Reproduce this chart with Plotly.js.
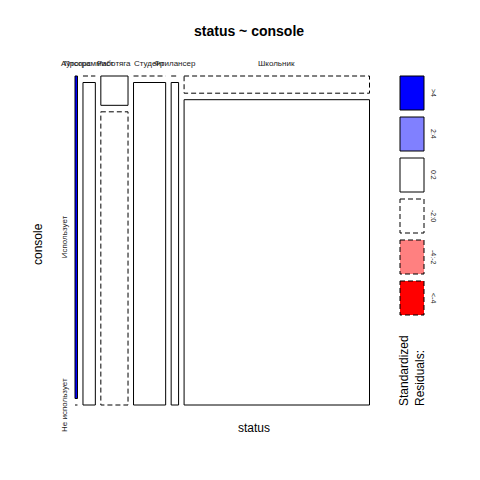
<!DOCTYPE html>
<html><head><meta charset="utf-8">
<script src="https://cdn.plot.ly/plotly-3.0.1.min.js"></script>
<style>body{margin:0;background:#fff}</style></head>
<body><div id="chart" style="width:480px;height:480px"></div>
<script>
// ---- data ----
const statusLevels = ["Аутсорс", "Программист", "Работяга", "Студент", "Фрилансер", "Школьник"];
const consoleLevels = ["Использует", "Не использует"];
const usesCounts = [1, 0, 1, 0, 0, 4];
const notUsesCounts = [0, 5, 10, 13, 3, 71];
const legendLabels = [">4", "2:4", "0:2", "-2:0", "-4:-2", "<-4"];

// ---- layout geometry (pixel-like data space) ----
const X0 = 75, X1 = 369.5, Y0 = 76, Y1 = 405, GX = 5.5, GY = 6.5;
const FONT = "Liberation Sans, Arial, sans-serif";
const DASH = "5px,3px";

const counts = [usesCounts, notUsesCounts];
const colTot = statusLevels.map((_, i) => usesCounts[i] + notUsesCounts[i]);
const rowTot = counts.map(r => r.reduce((a, b) => a + b, 0));
const N = colTot.reduce((a, b) => a + b, 0);

function styleFor(r) {
  if (r > 4) return {fill: "#0000FF", dash: "solid"};
  if (r > 2) return {fill: "#8080FF", dash: "solid"};
  if (r >= 0) return {fill: "#FFFFFF", dash: "solid"};
  if (r >= -2) return {fill: "#FFFFFF", dash: DASH};
  if (r >= -4) return {fill: "#FF8080", dash: DASH};
  return {fill: "#FF0000", dash: DASH};
}

const shapes = [];
const annotations = [];
const availW = (X1 - X0) - GX * (statusLevels.length - 1);
const availH = (Y1 - Y0) - GY * (consoleLevels.length - 1);
let cx = X0;
const colCenters = [];
const firstColRowCenters = [];
statusLevels.forEach((s, i) => {
  const w = availW * colTot[i] / N;
  let cy = Y0;
  consoleLevels.forEach((c, j) => {
    const obs = counts[j][i];
    const exp = colTot[i] * rowTot[j] / N;
    const res = (obs - exp) / Math.sqrt(exp);
    const h = availH * obs / colTot[i];
    const st = styleFor(res);
    if (h < 0.5) {
      shapes.push({type: "line", xref: "x", yref: "y", x0: cx, x1: cx + w, y0: cy, y1: cy,
        line: {color: "black", width: 1, dash: st.dash}});
    } else {
      shapes.push({type: "rect", xref: "x", yref: "y", x0: cx, x1: cx + w, y0: cy, y1: cy + h,
        fillcolor: st.fill, line: {color: "black", width: 1, dash: st.dash}, layer: "above"});
    }
    if (i === 0) firstColRowCenters.push(cy + h / 2);
    cy += h + GY;
  });
  colCenters.push(cx + w / 2);
  cx += w + GX;
});

// column labels (top)
statusLevels.forEach((s, i) => {
  annotations.push({x: colCenters[i], y: 63, xref: "x", yref: "y", text: s, showarrow: false,
    xanchor: "center", yanchor: "middle", font: {family: FONT, size: 8, color: "#222"}});
});
// row labels (left, from first column)
consoleLevels.forEach((c, j) => {
  annotations.push({x: 64, y: firstColRowCenters[j], xref: "x", yref: "y", text: c, showarrow: false,
    textangle: -90, xanchor: "center", yanchor: "middle", font: {family: FONT, size: 8, color: "#222"}});
});

// titles
annotations.push({x: 248.5, y: 31, xref: "x", yref: "y", text: "<b>status ~ console</b>", showarrow: false,
  xanchor: "center", yanchor: "middle", font: {family: FONT, size: 14, color: "black"}});
annotations.push({x: 254, y: 428, xref: "x", yref: "y", text: "status", showarrow: false,
  xanchor: "center", yanchor: "middle", font: {family: FONT, size: 12, color: "black"}});
annotations.push({x: 38, y: 244, xref: "x", yref: "y", text: "console", showarrow: false, textangle: -90,
  xanchor: "center", yanchor: "middle", font: {family: FONT, size: 12, color: "black"}});

// legend
const legendRes = [5, 3, 1, -1, -3, -5];
legendLabels.forEach((lab, k) => {
  const top = 76 + k * 41, bot = top + 34;
  const st = styleFor(legendRes[k]);
  shapes.push({type: "rect", xref: "x", yref: "y", x0: 400, x1: 424, y0: top, y1: bot,
    fillcolor: st.fill, line: {color: "black", width: 1, dash: st.dash}});
  annotations.push({x: 434, y: (top + bot) / 2, xref: "x", yref: "y", text: lab, showarrow: false,
    textangle: 90, xanchor: "center", yanchor: "middle", font: {family: FONT, size: 7, color: "#222"}});
});
annotations.push({x: 412, y: 371, xref: "x", yref: "y", text: "Standardized<br>Residuals:", showarrow: false,
  textangle: -90, align: "left", xanchor: "center", yanchor: "middle",
  font: {family: FONT, size: 12, color: "black"}});

const layout = {
  width: 480, height: 480,
  margin: {l: 0, r: 0, t: 0, b: 0},
  paper_bgcolor: "white", plot_bgcolor: "white",
  showlegend: false,
  xaxis: {range: [0, 480], visible: false, fixedrange: true},
  yaxis: {range: [480, 0], visible: false, fixedrange: true},
  shapes: shapes, annotations: annotations
};
Plotly.newPlot("chart", [{type: "scatter", x: [], y: [], mode: "markers", hoverinfo: "skip"}], layout,
  {staticPlot: true, displayModeBar: false});
</script>
</body></html>
